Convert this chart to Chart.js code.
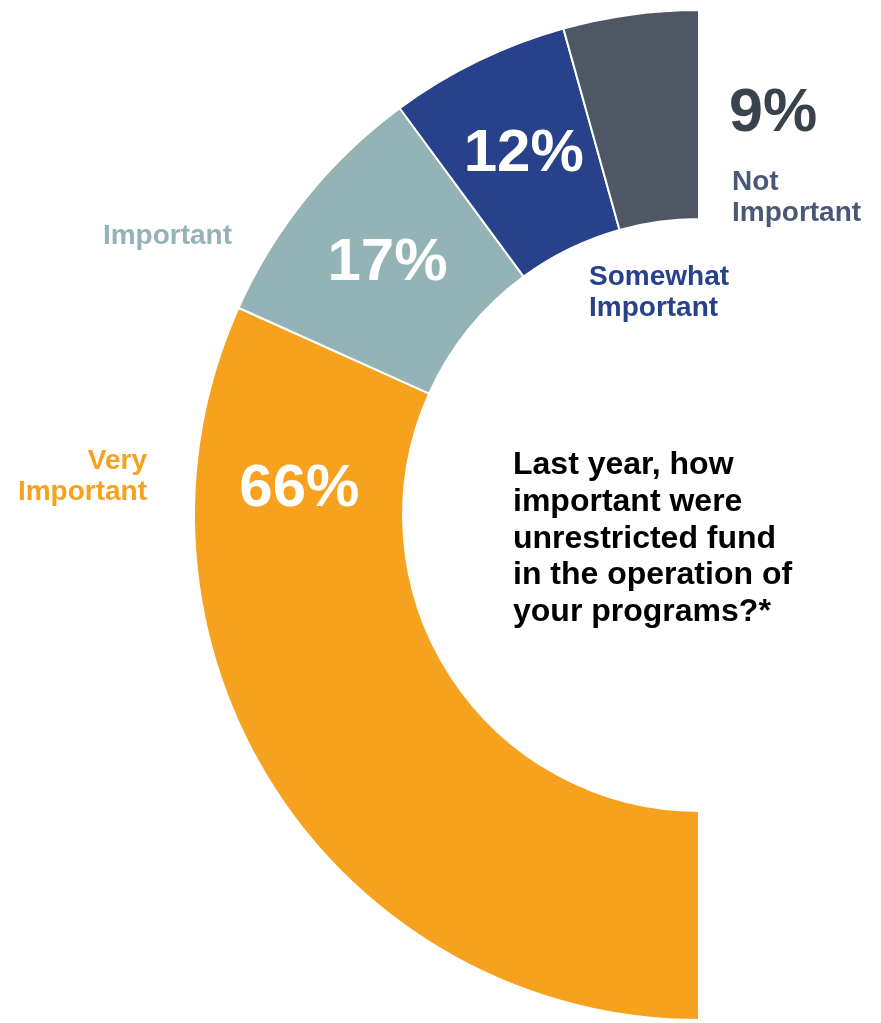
<!DOCTYPE html>
<html lang="en">
<head>
    <meta charset="UTF-8">
    <title>Unrestricted funds</title>
    <script src="https://cdn.jsdelivr.net/npm/chart.js"></script>
    <style>
        body {
            margin: 0;
            padding: 0;
            background-color: #ffffff;
        }

        .chart-box {
            position: relative;
            width: 881px;
            height: 1023px;
        }
    </style>
</head>

<body>
<div class="chart-box">
    <canvas id="fundsChart"></canvas>
</div>

<script>
    // Answers, listed from the bottom of the half ring up to the top
    const categories = ['Very Important', 'Important', 'Somewhat Important', 'Not Important'];
    const shares = [66, 17, 12, 9];
    const sliceColors = ['#F7A21E', '#94B3B7', '#27418A', '#4D5864'];
    const labelColors = ['#F7A21E', '#94B3B7', '#27418A', '#4A5878'];
    const question = [
        'Last year, how',
        'important were',
        'unrestricted fund',
        'in the operation of',
        'your programs?*'
    ];

    const FONT = '"Liberation Sans", Arial, Helvetica, sans-serif';

    // where along each arc (0 = start, 1 = end) the percentage sits
    const pctAlong = [0.82, 0.5, 0.5, 0.5];

    // category names beside the ring: lines, anchor x, first baseline, alignment
    const namePlaces = [
        {lines: ['Very', 'Important'], x: 147, y: 469, align: 'right'},
        {lines: ['Important'], x: 232, y: 244, align: 'right'},
        {lines: ['Somewhat', 'Important'], x: 589, y: 285, align: 'left'},
        {lines: ['Not', 'Important'], x: 732, y: 190, align: 'left'}
    ];

    const ringLabels = {
        id: 'ringLabels',
        afterDatasetsDraw(chart) {
            const ctx = chart.ctx;
            const arcs = chart.getDatasetMeta(0).data;
            ctx.save();

            arcs.forEach((arc, i) => {
                const p = arc.getProps(['x', 'y', 'startAngle', 'endAngle', 'innerRadius', 'outerRadius'], true);
                const text = shares[i] + '%';
                if (i === shares.length - 1) {
                    // the thin top slice gets its number outside, on the right
                    ctx.fillStyle = '#3A434D';
                    ctx.font = 'bold 61px ' + FONT;
                    ctx.textAlign = 'left';
                    ctx.textBaseline = 'alphabetic';
                    ctx.fillText(text, 729, 131);
                    return;
                }
                const a = p.startAngle + pctAlong[i] * (p.endAngle - p.startAngle);
                const r = (p.innerRadius + p.outerRadius) / 2;
                ctx.fillStyle = '#ffffff';
                ctx.font = 'bold 60px ' + FONT;
                ctx.textAlign = 'center';
                ctx.textBaseline = 'middle';
                ctx.fillText(text, p.x + r * Math.cos(a), p.y + r * Math.sin(a));
            });

            // category names
            ctx.textBaseline = 'alphabetic';
            ctx.font = 'bold 28px ' + FONT;
            namePlaces.forEach((n, i) => {
                ctx.fillStyle = labelColors[i];
                ctx.textAlign = n.align;
                n.lines.forEach((line, k) => {
                    ctx.fillText(line, n.x, n.y + k * 31);
                });
            });

            // the survey question inside the ring
            ctx.fillStyle = '#000000';
            ctx.textAlign = 'left';
            ctx.font = 'bold 32px ' + FONT;
            question.forEach((line, k) => {
                ctx.fillText(line, 513, 474 + k * 36.8);
            });
            ctx.restore();
        }
    };

    new Chart(document.getElementById('fundsChart'), {
        type: 'doughnut',
        data: {
            labels: categories,
            datasets: [{
                data: shares,
                backgroundColor: sliceColors,
                borderColor: '#ffffff',
                borderWidth: 2
            }]
        },
        options: {
            responsive: true,
            maintainAspectRatio: false,
            animation: false,
            rotation: 180,
            circumference: 180,
            cutout: '58.6%',
            layout: {
                padding: {left: 193, right: 181, top: 8, bottom: 1}
            },
            plugins: {
                legend: {display: false},
                tooltip: {enabled: false}
            }
        },
        plugins: [ringLabels]
    });
</script>
</body>
</html>
